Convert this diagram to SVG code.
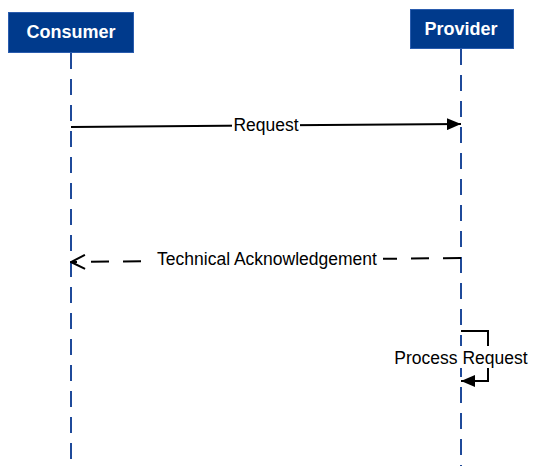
<svg xmlns="http://www.w3.org/2000/svg" width="538" height="471" viewBox="0 0 538 471">
<style>
.box{fill:#003a8c;stroke:#2a5cae;stroke-width:1}
.title{font-family:"Liberation Sans",Arial,sans-serif;font-weight:bold;font-size:18px;fill:#ffffff;text-anchor:middle}
.life{stroke:#1f4a9a;stroke-width:2;stroke-dasharray:16 10;fill:none}
.msg{stroke:#000;stroke-width:2;fill:none}
.lbl{font-family:"Liberation Sans",Arial,sans-serif;font-size:17.5px;fill:#000;text-anchor:middle}
.bg{fill:#fff}
</style>
<defs>
<marker id="filled" markerWidth="14" markerHeight="12" refX="14" refY="6" orient="auto" markerUnits="userSpaceOnUse">
<path d="M0,0 L14,6 L0,12 Z" fill="#000"/>
</marker>
<marker id="open" markerWidth="16" markerHeight="16" refX="15" refY="8" orient="auto" markerUnits="userSpaceOnUse">
<path d="M1,1 L15,8 L1,15" fill="none" stroke="#000" stroke-width="2"/>
</marker>
</defs>
<rect width="538" height="471" fill="#fff"/>
<g id="consumer">
<line class="life" x1="71" y1="53" x2="71" y2="466"/>
<rect class="box" x="8.5" y="12.5" width="125" height="40"/>
<text class="title" x="71" y="38">Consumer</text>
</g>
<g id="provider">
<line class="life" x1="461" y1="49" x2="461" y2="466"/>
<rect class="box" x="410.5" y="9.5" width="103" height="39"/>
<text class="title" x="461" y="35">Provider</text>
</g>
<g id="connectors">
<path class="msg" d="M71,127 L461,124" marker-end="url(#filled)"/>
<rect class="bg" x="232" y="113" width="68" height="22"/>
<text class="lbl" x="266" y="131">Request</text>
<path class="msg" d="M461,258 L71,262" stroke-dasharray="18 14" marker-end="url(#open)"/>
<rect class="bg" x="151" y="247" width="232" height="22"/>
<text class="lbl" x="267" y="265">Technical Acknowledgement</text>
<path class="msg" d="M461,331 L488,331 L488,381 L461,381" marker-end="url(#filled)"/>
<rect class="bg" x="390" y="346" width="142" height="22"/>
<text class="lbl" x="461" y="364">Process Request</text>
</g>
</svg>
